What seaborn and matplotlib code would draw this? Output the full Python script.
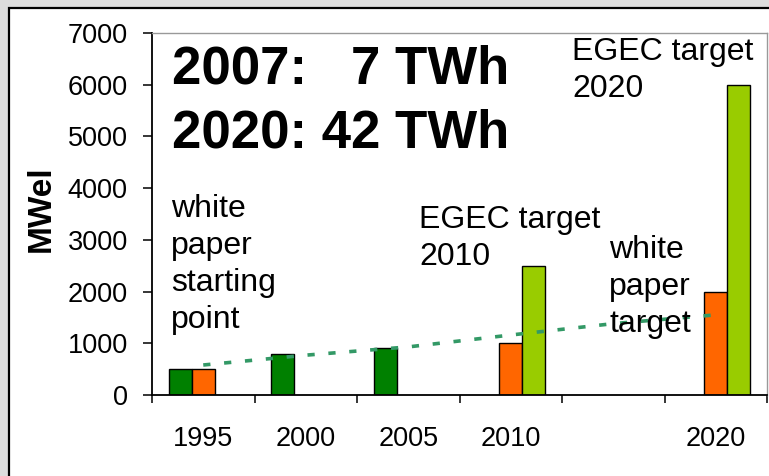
import numpy as np
import pandas as pd
import matplotlib
matplotlib.use("Agg")
import matplotlib.pyplot as plt
from matplotlib.patches import Rectangle
from matplotlib.ticker import FixedLocator, MultipleLocator
import seaborn as sns

# ---- data ----
years = ["1995", "2000", "2005", "2010", " ", "2020"]
actual = [500, 800, 900, np.nan, np.nan, np.nan]
white_paper = [500, np.nan, np.nan, 1000, np.nan, 2000]
egec = [np.nan, np.nan, np.nan, 2500, np.nan, 6000]
trend = [580, 770, 930, 1160, 1380, 1550]
series_names = ["actual", "white paper", "EGEC"]
series_colors = ["#008000", "#FF6600", "#99CC00"]

df = pd.DataFrame({"year": years, "actual": actual,
                   "white paper": white_paper, "EGEC": egec})
long = df.melt(id_vars="year", var_name="series", value_name="MWel").dropna()
trend_df = pd.DataFrame({"pos": np.arange(len(years)), "trend": trend})

# ---- style ----
sns.set_style("ticks")
plt.rcParams["font.family"] = ["Liberation Sans", "DejaVu Sans"]
plt.rcParams["text.color"] = "black"
plt.rcParams["axes.labelcolor"] = "black"
plt.rcParams["xtick.color"] = "black"
plt.rcParams["ytick.color"] = "black"

W, H = 769, 476
fig = plt.figure(figsize=(W / 100, H / 100), dpi=100)
fig.patch.set_facecolor("#DDDDDD")
fig.patches.append(Rectangle((8.5 / W, -0.1), 2.0, (H - 7.5) / H + 0.1,
                             transform=fig.transFigure, facecolor="white",
                             edgecolor="black", linewidth=1.6, zorder=-5))

ax = fig.add_axes([152 / W, (H - 395) / H, 615 / W, 362 / H])
ax.set_zorder(1)
ax.set_facecolor("white")

sns.barplot(data=long, x="year", y="MWel", hue="series", order=years,
            hue_order=series_names, palette=series_colors, width=0.67,
            edgecolor="black", linewidth=1.0, legend=False, ax=ax,
            saturation=1, zorder=2)

sns.lineplot(data=trend_df, x="pos", y="trend", ax=ax, color="#339966",
             linewidth=2.6, dashes=False, zorder=4)
ax.lines[-1].set_dashes([2.0, 3.8])

ax.set_xlim(-0.5, len(years) - 0.5)
ax.set_ylim(0, 7000)
ax.yaxis.set_major_locator(MultipleLocator(1000))

# x labels at centres, ticks at boundaries
ax.set_xticks(np.arange(len(years)))
ax.set_xticklabels(years)
ax.xaxis.set_minor_locator(FixedLocator(np.arange(len(years) + 1) - 0.5))
ax.tick_params(axis="x", which="major", length=0, pad=22, labelsize=19.5)
ax.tick_params(axis="x", which="minor", length=6, width=1.1, color="black",
               direction="out")
ax.tick_params(axis="y", length=6.5, width=1.1, color="black", pad=11,
               labelsize=19.5, direction="out")

for s in ["left", "bottom"]:
    ax.spines[s].set_color("black")
    ax.spines[s].set_linewidth(1.3)
for s in ["top", "right"]:
    ax.spines[s].set_color("#999999")
    ax.spines[s].set_linewidth(1.0)

ax.set_xlabel("")
ax.set_ylabel("MWel", fontsize=24, fontweight="bold")
ax.yaxis.label.set_verticalalignment("center")
ax.yaxis.set_label_coords(-0.18, 0.514)


def px(x, y):
    return x / W, 1 - y / H


fig.text(*px(172, 83), "2007:   7 TWh", fontsize=38, fontweight="bold",
         va="baseline", ha="left", zorder=5)
fig.text(*px(172, 147), "2020: 42 TWh", fontsize=38, fontweight="bold",
         va="baseline", ha="left", zorder=5)

# baseline given for the last line of each block
ann = dict(fontsize=23, ha="left", va="baseline", linespacing=1.3, zorder=5)
fig.text(*px(171, 328), "white\npaper\nstarting\npoint", **ann)
fig.text(*px(419, 265), "EGEC target\n2010", **ann)
fig.text(*px(609, 332), "white\npaper\ntarget", **ann)
fig.text(*px(572, 97), "EGEC target\n2020", **ann)

fig.savefig("out.png", dpi=100, facecolor=fig.get_facecolor())
